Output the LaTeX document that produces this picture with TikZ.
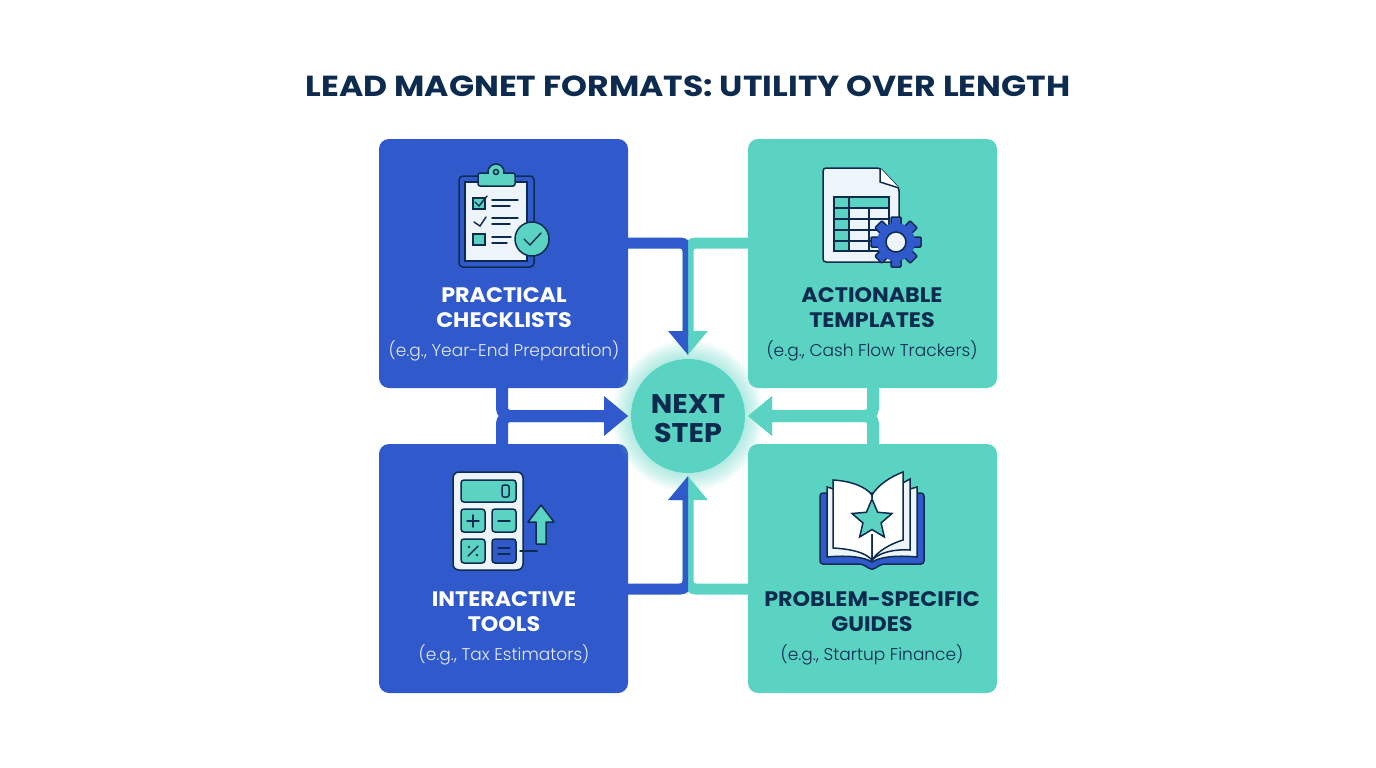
\documentclass[tikz,border=0pt]{standalone}
\usepackage{fontspec}
\setmainfont{Poppins}
\newfontfamily\sublight{Poppins Light}
\newfontfamily\titleface[FakeStretch=1.139]{Poppins Bold}
\newfontfamily\headface[FakeStretch=1.06]{Poppins Bold}
\usetikzlibrary{arrows.meta,shapes.geometric}
\definecolor{cardblue}{HTML}{3059CC}
\definecolor{cardteal}{HTML}{5BD3C3}
\definecolor{navy}{HTML}{0D2B4E}
\definecolor{paper}{HTML}{EDF4FA}
\tikzset{
    card/.style={rounded corners=10pt, minimum size=249pt, inner sep=0pt},
    headline/.style={font=\headface\fontsize{21}{25}\selectfont, align=center, text=#1},
    subline/.style={font=\sublight\fontsize{17}{20}\selectfont, text=#1},
    bluelink/.style={draw=cardblue, line width=#1, rounded corners=8pt, -{Triangle[width=38pt,length=24pt]}},
    teallink/.style={draw=cardteal, line width=#1, rounded corners=8pt, -{Triangle[width=38pt,length=24pt]}},
    iconline/.style={draw=navy, line width=1.5pt},
    thinline/.style={draw=navy, line width=1.4pt, line cap=round}
}
\begin{document}
\begin{tikzpicture}[x=1pt, y=-1pt]
    \useasboundingbox (0,0) rectangle (1376,768);
    \node[font=\titleface\fontsize{29}{34}\selectfont, text=navy] (title) at (688,86.5) {LEAD MAGNET FORMATS: UTILITY OVER LENGTH};

    % Cards
    \node[card, fill=cardblue] (checklists) at (503.5,263.5) {};
    \node[card, fill=cardteal] (templates) at (872.5,263.5) {};
    \node[card, fill=cardblue] (tools) at (503.5,568.5) {};
    \node[card, fill=cardteal] (guides) at (872.5,568.5) {};

    \node[headline=white] (checklists title) at (504,307.5) {PRACTICAL\\CHECKLISTS};
    \node[subline=white!88!cardblue] (checklists sub) at (504,350.5) {(e.g., Year-End Preparation)};
    \node[headline=navy] (templates title) at (872,307.5) {ACTIONABLE\\TEMPLATES};
    \node[subline=navy] (templates sub) at (872,350.5) {(e.g., Cash Flow Trackers)};
    \node[headline=white] (tools title) at (504,611.5) {INTERACTIVE\\TOOLS};
    \node[subline=white!88!cardblue] (tools sub) at (504,654.5) {(e.g., Tax Estimators)};
    \node[headline=navy] (guides title) at (872,611.5) {PROBLEM-SPECIFIC\\GUIDES};
    \node[subline=navy] (guides sub) at (872,654.5) {(e.g., Startup Finance)};

    % Glow of the centre
    \foreach \r in {58,59,...,76}
        \fill[cardteal, opacity=0.03] (688,416) circle (\r);

    % Connectors
    \coordinate (top tip) at (688,355);
    \coordinate (bottom tip) at (688,476);
    \coordinate (left tip) at (628,416);
    \coordinate (right tip) at (748,416);

    \draw[teallink=11pt] (templates.west |- 0,243) -| (top tip);
    \draw[teallink=11pt] (guides.west |- 0,589) -| (bottom tip);
    \begin{scope}
        \clip (0,0) rectangle (688,768);
        \draw[bluelink=11pt] (checklists.east |- 0,243) -| (top tip);
        \draw[bluelink=11pt] (tools.east |- 0,589) -| (bottom tip);
    \end{scope}
    \draw[bluelink=12pt] (checklists.south -| 502,0) |- (left tip);
    \draw[bluelink=12pt] (tools.north -| 502,0) |- (left tip);
    \draw[teallink=12pt] (templates.south -| 873,0) |- (right tip);
    \draw[teallink=12pt] (guides.north -| 873,0) |- (right tip);

    \node[circle, fill=cardteal, minimum size=114pt, inner sep=0pt] (next) at (688,416) {};
    \node[text=navy, align=center, font=\headface\fontsize{27}{29}\selectfont] (next label) at (688,419) {NEXT\\STEP};

    % Clipboard icon
    \draw[iconline, fill=cardblue, rounded corners=4pt] (459,176) rectangle (534,267);
    \draw[iconline, fill=paper] (465,182) rectangle (527,261);
    \draw[iconline, fill=cardteal] (496,172) circle (8);
    \draw[iconline, fill=cardteal, rounded corners=2pt] (478,186) -- (478,173) -- (515,173) -- (515,186) -- cycle;
    \fill[cardteal] (489,170) rectangle (503,175);
    \draw[iconline, fill=cardteal] (496,172) circle (2.5);
    \draw[iconline, fill=cardteal] (473,198) rectangle (485,209);
    \draw[thinline] (475,202) -- (479,206) -- (487,196);
    \draw[thinline] (474,222) -- (480,226) -- (486,217);
    \draw[iconline, fill=cardteal] (473,234) rectangle (485,245);
    \draw[thinline] (492,200) -- (518,200) (492,206) -- (510,206);
    \draw[thinline] (492,218) -- (518,218) (492,224) -- (510,224);
    \draw[thinline] (492,237) -- (511,237) (492,243) -- (507,243);
    \draw[iconline, fill=cardteal] (532,239) circle (17);
    \draw[thinline] (524,239) -- (530,245) -- (541,233);

    % Sheet icon
    \draw[iconline, fill=paper, rounded corners=3pt] (823,168) -- (880,168) -- (899,188) -- (899,262) -- (823,262) -- cycle;
    \draw[iconline, fill=white] (880,168) -- (880,182) -- (899,188);
    \fill[cardteal] (834,197) rectangle (889,208) (834,208) rectangle (849,251);
    \draw[iconline] (834,197) rectangle (889,251);
    \foreach \y in {208,219,230,241}
        \draw[iconline] (834,\y) -- (889,\y);
    \draw[iconline] (849,197) -- (849,251) (869,208) -- (869,251);
    \foreach \a in {0,45,...,315}
        \draw[iconline, fill=cardblue, rounded corners=1pt, rotate around={\a:(896,242)}] (891,225) -- (891,217) -- (901,217) -- (901,225);
    \fill[cardblue] (896,242) circle (19);
    \draw[iconline, fill=paper] (896,242) circle (10);

    % Calculator icon
    \draw[iconline, fill=paper, rounded corners=6pt] (453,472) rectangle (523,570);
    \draw[iconline, fill=cardteal, rounded corners=3pt] (461,480) rectangle (516,502);
    \draw[iconline, rounded corners=2pt] (502,485) rectangle (509,497);
    \draw[iconline, fill=cardteal, rounded corners=3pt] (461,509) rectangle (485,532);
    \draw[iconline, fill=cardteal, rounded corners=3pt] (492,509) rectangle (516,532);
    \draw[iconline, fill=cardteal, rounded corners=3pt] (461,539) rectangle (485,563);
    \draw[iconline, fill=cardblue, rounded corners=3pt] (492,539) rectangle (516,563);
    \draw[thinline] (467,521) -- (479,521) (473,515) -- (473,527);
    \draw[thinline] (498,521) -- (510,521);
    \draw[thinline] (468,556) -- (478,546);
    \fill[navy] (469,547) circle (1.4) (477,555) circle (1.4);
    \draw[thinline] (498,548) -- (510,548) (498,554) -- (510,554);
    \draw[iconline, fill=cardteal, line join=round] (541,505) -- (554,522) -- (546,522) -- (546,544) -- (536,544) -- (536,522) -- (528,522) -- cycle;
    \draw[thinline] (520,551) -- (537,551);

    % Book icon
    \draw[iconline, fill=cardblue, rounded corners=3pt] (827,493) -- (820,493) -- (820,564) -- (862,564) -- (872,570) -- (882,564) -- (924,564) -- (924,493) -- (917,493) -- cycle;
    \draw[iconline, fill=paper] (827,487) -- (872,500) -- (917,487) -- (917,557) .. controls (895,555) and (880,557) .. (872,562) .. controls (864,557) and (849,555) .. (827,557) -- cycle;
    \draw[iconline, fill=paper] (872,500) -- (910,479) -- (910,550) .. controls (895,549) and (880,552) .. (872,560) -- cycle;
    \draw[iconline, fill=white] (833,480) .. controls (850,481) and (865,486) .. (872,495) -- (872,560) .. controls (865,552) and (850,549) .. (833,548) -- cycle;
    \draw[iconline, fill=white] (872,495) .. controls (878,485) and (890,477) .. (903,472) -- (903,540) .. controls (890,544) and (878,551) .. (872,560) -- cycle;
    \fill[white] (870,498) rectangle (874,534);
    \node[star, star points=5, star point ratio=2.2, fill=cardteal, iconline, minimum size=42pt, inner sep=0pt] (book star) at (872,520) {};
\end{tikzpicture}
\end{document}
